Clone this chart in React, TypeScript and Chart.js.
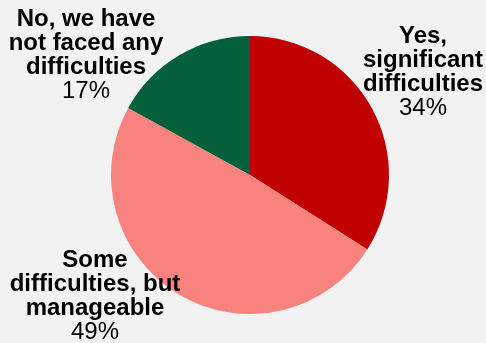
import React, { useEffect, useRef } from "react";
import { Chart, registerables } from "chart.js";

Chart.register(...registerables);

const categories: string[][] = [
  ["Yes,", "significant", "difficulties"],
  ["Some", "difficulties, but", "manageable"],
  ["No, we have", "not faced any", "difficulties"],
];
const shares: number[] = [34, 49, 17];
const colors: string[] = ["#C00000", "#F8837E", "#04603A"];
// label anchor: centre x, first baseline y (layout only)
const labelAnchors: [number, number][] = [
  [423, 43],
  [95, 267],
  [86, 26],
];

const labelPlugin = {
  id: "outsideLabels",
  afterDraw(chart: any) {
    const ctx = chart.ctx as CanvasRenderingContext2D;
    ctx.save();
    ctx.fillStyle = "#000000";
    ctx.textAlign = "center";
    ctx.textBaseline = "alphabetic";
    const lh = 24;
    categories.forEach((lines, i) => {
      const [x, y] = labelAnchors[i];
      ctx.font = "bold 24px 'Liberation Sans', Arial, sans-serif";
      lines.forEach((ln, j) => ctx.fillText(ln, x, y + j * lh));
      ctx.font = "24px 'Liberation Sans', Arial, sans-serif";
      ctx.fillText(shares[i] + "%", x, y + lines.length * lh);
    });
    ctx.restore();
  },
};

export default function App() {
  const ref = useRef<HTMLCanvasElement>(null);
  useEffect(() => {
    document.body.style.margin = "0";
    document.body.style.background = "#F2F2F2";
    const chart = new Chart(ref.current!, {
      type: "pie",
      data: {
        labels: categories.map((l) => l.join(" ")),
        datasets: [
          {
            data: shares,
            backgroundColor: colors,
            borderWidth: 0,
          },
        ],
      },
      options: {
        animation: false,
        responsive: false,
        maintainAspectRatio: false,
        layout: { padding: { left: 111, right: 97, top: 36, bottom: 29 } },
        plugins: {
          legend: { display: false },
          tooltip: { enabled: false },
        },
      },
      plugins: [labelPlugin],
    });
    return () => chart.destroy();
  }, []);
  return (
    <div style={{ width: 486, height: 343, background: "#F2F2F2" }}>
      <canvas ref={ref} width={486} height={343} style={{ display: "block" }} />
    </div>
  );
}
